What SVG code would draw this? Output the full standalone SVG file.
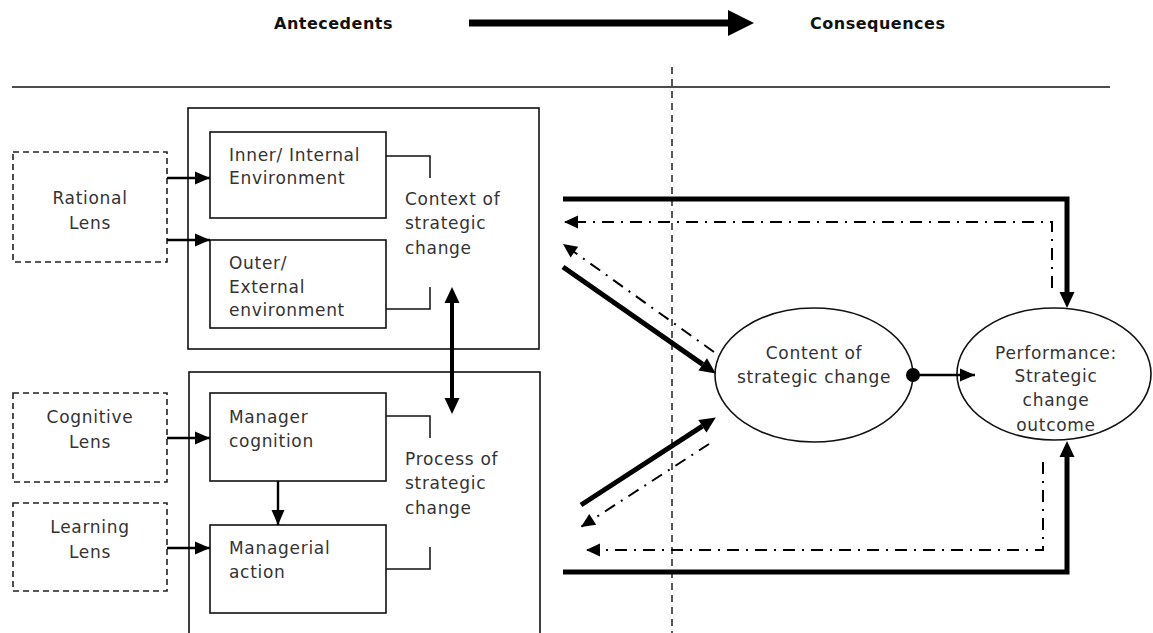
<svg xmlns="http://www.w3.org/2000/svg" width="1153" height="633" viewBox="0 0 1153 633">
<style>
text{font-family:"DejaVu Sans","Liberation Sans",sans-serif;font-size:17px;fill:#333;letter-spacing:0.7px}
.hd{font-weight:bold;font-size:16px;fill:#111;letter-spacing:0.5px}
.mid{text-anchor:middle}
.box{fill:none;stroke:#111;stroke-width:1.6}
.lens{fill:none;stroke:#222;stroke-width:1.6;stroke-dasharray:6 4}
.br{fill:none;stroke:#111;stroke-width:1.5}
.thick{fill:none;stroke:#000;stroke-width:5}
.thin{fill:none;stroke:#000;stroke-width:2.4}
.dd{fill:none;stroke:#000;stroke-width:2;stroke-dasharray:12 7 2 7}
.ell{fill:#fff;stroke:#111;stroke-width:1.6}
</style>
<defs>
<marker id="hb" markerUnits="userSpaceOnUse" markerWidth="18" markerHeight="18" viewBox="0 -9 18 18" refX="0" refY="0" orient="auto-start-reverse" overflow="visible"><path d="M0,-7.5 L16,0 L0,7.5 z" fill="#000"/></marker>
<marker id="ht" markerUnits="userSpaceOnUse" markerWidth="16" markerHeight="16" viewBox="0 -8 16 16" refX="15" refY="0" orient="auto" overflow="visible"><path d="M0,-6.5 L15,0 L0,6.5 z" fill="#000"/></marker>
<marker id="hd" markerUnits="userSpaceOnUse" markerWidth="16" markerHeight="16" viewBox="0 -8 16 16" refX="14" refY="0" orient="auto" overflow="visible"><path d="M0,-6.5 L14,0 L0,6.5 z" fill="#000"/></marker>
</defs>

<g id="header">
<text class="hd" x="274" y="29">Antecedents</text>
<text class="hd" x="810" y="29">Consequences</text>
<path d="M469,23 H729" stroke="#000" stroke-width="7" fill="none"/>
<path d="M728,10 L754,23 L728,36 z" fill="#000"/>
<path d="M12,87 H1110" stroke="#111" stroke-width="1.5" fill="none"/>
<path d="M672,67 V633" stroke="#111" stroke-width="1.4" stroke-dasharray="7 5" fill="none"/>
</g>

<g id="context">
<rect class="box" x="188" y="108" width="351" height="241"/>
<text x="405" y="205">Context of</text>
<text x="405" y="229">strategic</text>
<text x="405" y="254">change</text>
</g>
<g id="inner">
<rect class="box" x="210" y="132" width="176" height="86"/>
<text x="229" y="161">Inner/ Internal</text>
<text x="229" y="184">Environment</text>
<path class="br" d="M386,156 H430 V178"/>
</g>
<g id="outer">
<rect class="box" x="210" y="240" width="176" height="88"/>
<text x="229" y="269">Outer/</text>
<text x="229" y="293">External</text>
<text x="229" y="316">environment</text>
<path class="br" d="M430,287 V309 H386"/>
</g>

<g id="process">
<rect class="box" x="189" y="372" width="351" height="270"/>
<text x="405" y="465">Process of</text>
<text x="405" y="489">strategic</text>
<text x="405" y="514">change</text>
</g>
<g id="cognition">
<rect class="box" x="210" y="393" width="176" height="88"/>
<text x="229" y="423">Manager</text>
<text x="229" y="447">cognition</text>
<path class="br" d="M386,416 H430 V438"/>
</g>
<g id="action">
<rect class="box" x="210" y="525" width="176" height="88"/>
<text x="229" y="554">Managerial</text>
<text x="229" y="578">action</text>
<path class="br" d="M430,547 V569 H386"/>
</g>

<g id="rational">
<rect class="lens" x="13" y="152" width="154" height="110"/>
<text class="mid" x="90" y="204">Rational</text>
<text class="mid" x="90" y="229">Lens</text>
</g>
<g id="cognitive">
<rect class="lens" x="13" y="393" width="154" height="89"/>
<text class="mid" x="90" y="423">Cognitive</text>
<text class="mid" x="90" y="448">Lens</text>
</g>
<g id="learning">
<rect class="lens" x="13" y="503" width="154" height="88"/>
<text class="mid" x="90" y="533">Learning</text>
<text class="mid" x="90" y="558">Lens</text>
</g>

<g id="content">
<ellipse class="ell" cx="814" cy="375" rx="99" ry="67"/>
<text class="mid" x="814" y="359">Content of</text>
<text class="mid" x="814" y="383">strategic change</text>
</g>
<g id="performance">
<ellipse class="ell" cx="1054" cy="374" rx="97" ry="66"/>
<text class="mid" x="1056" y="359">Performance:</text>
<text class="mid" x="1056" y="382">Strategic</text>
<text class="mid" x="1056" y="406">change</text>
<text class="mid" x="1056" y="431">outcome</text>
</g>

<g id="connectors">
<path class="thin" d="M167,178 H210" marker-end="url(#ht)"/>
<path class="thin" d="M167,240 H210" marker-end="url(#ht)"/>
<path class="thin" d="M167,438 H210" marker-end="url(#ht)"/>
<path class="thin" d="M167,548 H210" marker-end="url(#ht)"/>
<path class="thin" d="M278,481 V525" marker-end="url(#ht)"/>
<path d="M452,303 V398" stroke="#000" stroke-width="4" fill="none" marker-start="url(#hb)" marker-end="url(#hb)"/>
<path class="thick" d="M563,199 H1067 V292" marker-end="url(#hb)"/>
<path class="dd" d="M1052,288 V222 H564" marker-end="url(#hd)"/>
<path class="thick" d="M563,267 L702.7,364.4" marker-end="url(#hb)"/>
<path class="dd" d="M714,352 L563,244" marker-end="url(#hd)"/>
<path class="thick" d="M581,505 L702.4,426.2" marker-end="url(#hb)"/>
<path class="dd" d="M709,444 L581,527" marker-end="url(#hd)"/>
<path class="thick" d="M563,572 H1067 V457" marker-end="url(#hb)"/>
<path class="dd" d="M1043,462 V550 H586" marker-end="url(#hd)"/>
<circle cx="913" cy="375" r="7" fill="#000"/>
<path class="thin" d="M913,375 H975" marker-end="url(#ht)"/>
</g>
</svg>
